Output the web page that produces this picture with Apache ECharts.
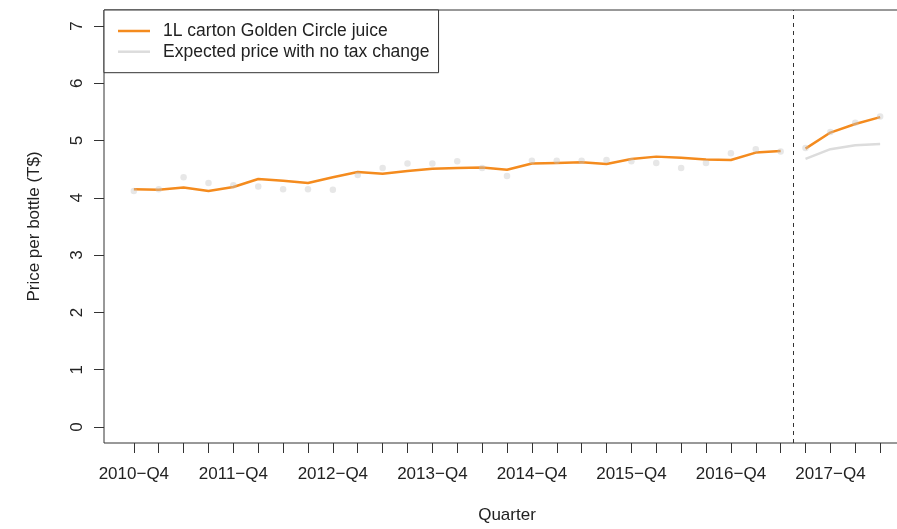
<!DOCTYPE html>
<html>
<head>
<meta charset="utf-8">
<script src="https://cdn.jsdelivr.net/npm/echarts@6/dist/echarts.min.js"></script>
<style>
  html, body { margin: 0; padding: 0; background: #ffffff; }
  #chart { width: 897px; height: 529px; }
</style>
</head>
<body>
<div id="chart"></div>
<script>
// Quarters, 2010-Q4 through 2018-Q2
const quarters = [
  '2010−Q4','2011−Q1','2011−Q2','2011−Q3','2011−Q4','2012−Q1','2012−Q2','2012−Q3',
  '2012−Q4','2013−Q1','2013−Q2','2013−Q3','2013−Q4','2014−Q1','2014−Q2','2014−Q3',
  '2014−Q4','2015−Q1','2015−Q2','2015−Q3','2015−Q4','2016−Q1','2016−Q2','2016−Q3',
  '2016−Q4','2017−Q1','2017−Q2','2017−Q3','2017−Q4','2018−Q1','2018−Q2'
];
// Quarter indices that carry a tick label (every Q4)
const labelledQuarters = [0, 4, 8, 12, 16, 20, 24, 28];
const yTicks = [0, 1, 2, 3, 4, 5, 6, 7];

// Observed quarterly prices (points)
const observed = [
  4.12, 4.15, 4.36, 4.26, 4.22, 4.20, 4.15, 4.15, 4.14, 4.40, 4.52, 4.60, 4.60, 4.64,
  4.52, 4.38, 4.65, 4.65, 4.65, 4.66, 4.64, 4.61, 4.52, 4.61, 4.78, 4.85, 4.81,
  4.87, 5.15, 5.31, 5.42
];
// Price series before the tax change (quarters 0–26)
const juiceBefore = [
  4.15, 4.14, 4.18, 4.12, 4.19, 4.33, 4.30, 4.26, 4.36, 4.45, 4.42, 4.47, 4.51, 4.52,
  4.53, 4.49, 4.60, 4.61, 4.62, 4.59, 4.68, 4.72, 4.70, 4.67, 4.66, 4.79, 4.82
];
// Price series after the tax change (quarters 27–30)
const juiceAfter = [4.86, 5.14, 5.29, 5.41];
// Counterfactual price with no tax change (quarters 27–30)
const expectedNoTax = [4.68, 4.85, 4.92, 4.94];
const afterStart = 27;
const taxChangeAt = 26.5;

const ORANGE = '#F48B1E';
const LIGHT = '#DCDCDC';
const INK = '#222222';
const FONT = '"Liberation Sans", Arial, Helvetica, sans-serif';
const NAME_JUICE = '1L carton Golden Circle juice';
const NAME_EXP = 'Expected price with no tax change';

const pairs = (arr, start) => arr.map((v, i) => [start + i, v]);
const qIndex = quarters.map((_, i) => i);

const chart = echarts.init(document.getElementById('chart'), null, { renderer: 'canvas' });
chart.setOption({
  animation: false,
  backgroundColor: '#ffffff',
  textStyle: { fontFamily: FONT },
  grid: {
    left: 104, top: 10, right: -13, bottom: 86,
    show: true, borderColor: '#333', borderWidth: 1,
    containLabel: false, outerBoundsMode: 'none'
  },
  legend: {
    orient: 'vertical',
    left: 104, top: 10,
    padding: [11, 9, 11, 14],
    itemWidth: 32, itemHeight: 2.5, itemGap: 0.7,
    backgroundColor: '#ffffff',
    borderColor: '#333', borderWidth: 1, borderRadius: 0,
    selectedMode: false,
    textStyle: { fontFamily: FONT, fontSize: 17.5, color: INK, lineHeight: 20, padding: [0, 0, 0, 8] },
    data: [
      { name: NAME_JUICE, icon: 'rect', itemStyle: { color: ORANGE } },
      { name: NAME_EXP, icon: 'rect', itemStyle: { color: LIGHT } }
    ]
  },
  xAxis: {
    type: 'value',
    min: -1.2, max: 31.2,
    name: 'Quarter', nameLocation: 'middle', nameGap: 64,
    nameTextStyle: { fontFamily: FONT, fontSize: 17, color: INK },
    axisLine: { show: false, onZero: false },
    splitLine: { show: false },
    axisTick: { show: true, length: 10, inside: false, customValues: qIndex,
                lineStyle: { color: '#333', width: 1 } },
    axisLabel: { customValues: labelledQuarters, margin: 23, fontFamily: FONT, fontSize: 17, color: INK,
                 formatter: v => quarters[Math.round(v)] }
  },
  yAxis: {
    type: 'value',
    min: -0.28, max: 7.28,
    name: 'Price per bottle (T$)', nameLocation: 'middle', nameGap: 61,
    nameTextStyle: { fontFamily: FONT, fontSize: 17, color: INK },
    axisLine: { show: false, onZero: false },
    splitLine: { show: false },
    axisTick: { show: true, length: 10, inside: false, customValues: yTicks,
                lineStyle: { color: '#333', width: 1 } },
    axisLabel: { customValues: yTicks, rotate: 90, margin: 18, fontFamily: FONT, fontSize: 17, color: INK }
  },
  series: [
    {
      name: NAME_JUICE, type: 'line', z: 2,
      data: pairs(juiceBefore, 0),
      showSymbol: false, symbol: 'none',
      lineStyle: { color: ORANGE, width: 2.5 }, itemStyle: { color: ORANGE }
    },
    {
      name: NAME_JUICE, type: 'line', z: 2,
      data: pairs(juiceAfter, afterStart),
      showSymbol: false, symbol: 'none',
      lineStyle: { color: ORANGE, width: 2.5 }, itemStyle: { color: ORANGE }
    },
    {
      name: NAME_EXP, type: 'line', z: 2,
      data: pairs(expectedNoTax, afterStart),
      showSymbol: false, symbol: 'none',
      lineStyle: { color: LIGHT, width: 2.5 }, itemStyle: { color: LIGHT }
    },
    {
      name: 'observed', type: 'scatter', z: 3,
      data: pairs(observed, 0),
      symbol: 'circle', symbolSize: 6.5,
      itemStyle: { color: 'rgba(196,196,196,0.5)' },
      markLine: {
        silent: true, symbol: 'none',
        label: { show: false },
        lineStyle: { color: '#333', width: 1, type: [4, 4] },
        data: [{ xAxis: taxChangeAt }]
      }
    }
  ]
});
</script>
</body>
</html>
